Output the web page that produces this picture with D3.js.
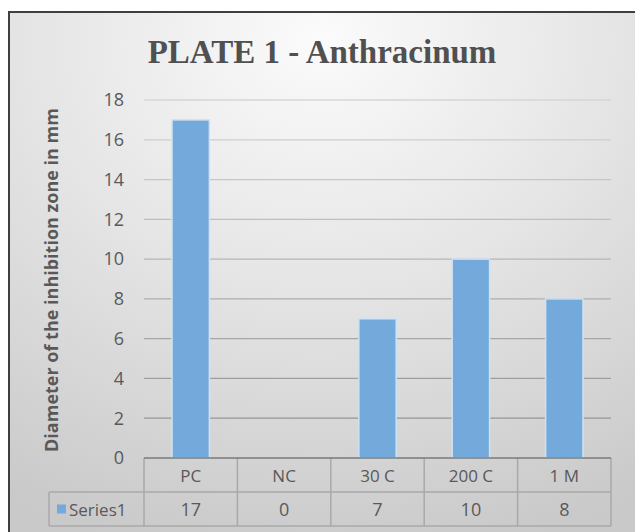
<!DOCTYPE html>
<html>
<head>
<meta charset="utf-8">
<script src="https://cdn.jsdelivr.net/npm/d3@7"></script>
<style>
    body { margin: 0; background: #ffffff; }
    svg { display: block; }
    text { font-family: "Open Sans", "Noto Sans", sans-serif; fill: #595959; }
</style>
</head>
<body>
<div id="chart"></div>
<script>
    // values
    var categories = ["PC", "NC", "30 C", "200 C", "1 M"];
    var values = [17, 0, 7, 10, 8];
    var seriesName = "Series1";
    var yTicks = [0, 2, 4, 6, 8, 10, 12, 14, 16, 18];
    var chartTitle = "PLATE 1 - Anthracinum";
    var yTitle = "Diameter of the inhibition zone in mm";

    var W = 635, H = 532;
    var plot = { left: 144, right: 611, top: 100, bottom: 458 };
    var rowH = 34;

    var svg = d3.select("#chart").append("svg")
        .attr("width", W).attr("height", H);

    // background gradient like the office chart style
    var defs = svg.append("defs");
    var grad = defs.append("radialGradient")
        .attr("id", "bg")
        .attr("gradientUnits", "userSpaceOnUse")
        .attr("cx", 322).attr("cy", 40).attr("r", 620)
        .attr("gradientTransform", "translate(322,40) scale(1,0.85) translate(-322,-40)");
    grad.append("stop").attr("offset", "0%").attr("stop-color", "#fbfbfb");
    grad.append("stop").attr("offset", "45%").attr("stop-color", "#e6e6e6");
    grad.append("stop").attr("offset", "100%").attr("stop-color", "#c9c9c9");

    svg.append("rect")
        .attr("x", 9).attr("y", 12)
        .attr("width", W + 20).attr("height", H + 20)
        .attr("fill", "url(#bg)")
        .attr("stroke", "#3f3f3f")
        .attr("stroke-width", 2);

    // scales
    var x = d3.scaleBand()
        .domain(categories)
        .range([plot.left, plot.right]);
    var y = d3.scaleLinear()
        .domain([0, 18])
        .range([plot.bottom, plot.top]);

    // gridlines, darker toward the bottom
    var gridColor = d3.interpolateRgb("#d6d6d6", "#8e8e8e");
    svg.append("g").selectAll("line")
        .data(yTicks.filter(function (d) { return d > 0; }))
        .enter().append("line")
        .attr("x1", plot.left).attr("x2", plot.right)
        .attr("y1", function (d) { return y(d); })
        .attr("y2", function (d) { return y(d); })
        .attr("stroke", function (d) { return gridColor(1 - d / 18); })
        .attr("stroke-width", 1.3);

    // y tick labels
    svg.append("g").selectAll("text")
        .data(yTicks)
        .enter().append("text")
        .attr("x", 124)
        .attr("y", function (d) { return y(d); })
        .attr("dy", "0.35em")
        .attr("text-anchor", "end")
        .style("font-size", "18px")
        .text(function (d) { return d; });

    // bars
    var barW = x.step() / 2.5;
    svg.append("g").selectAll("rect")
        .data(values)
        .enter().append("rect")
        .attr("x", function (d, i) { return x(categories[i]) + (x.step() - barW) / 2; })
        .attr("y", function (d) { return y(d); })
        .attr("width", barW)
        .attr("height", function (d) { return y(0) - y(d); })
        .attr("fill", "#74aadb")
        .attr("stroke", function (d) { return d > 0 ? "#cfe2f3" : "none"; })
        .attr("stroke-width", 1.5);

    // data table
    var tbl = svg.append("g");
    var lineCol = "#a9a9a9";
    var r1 = plot.bottom, r2 = plot.bottom + rowH, r3 = plot.bottom + 2 * rowH;
    var tableLeft = 49;

    categories.forEach(function (c, i) {
        tbl.append("line")
            .attr("x1", x(c)).attr("x2", x(c))
            .attr("y1", r1).attr("y2", r3)
            .attr("stroke", lineCol).attr("stroke-width", 1.5);
    });
    tbl.append("line")
        .attr("x1", plot.right).attr("x2", plot.right)
        .attr("y1", r1).attr("y2", r3)
        .attr("stroke", lineCol).attr("stroke-width", 1.5);
    tbl.append("line")
        .attr("x1", tableLeft).attr("x2", tableLeft)
        .attr("y1", r2).attr("y2", r3)
        .attr("stroke", lineCol).attr("stroke-width", 1.5);
    [r2, r3].forEach(function (yy) {
        tbl.append("line")
            .attr("x1", tableLeft).attr("x2", plot.right)
            .attr("y1", yy).attr("y2", yy)
            .attr("stroke", lineCol).attr("stroke-width", 1.5);
    });

    tbl.selectAll("text.cat")
        .data(categories)
        .enter().append("text")
        .attr("class", "cat")
        .attr("x", function (d) { return x(d) + x.bandwidth() / 2; })
        .attr("y", (r1 + r2) / 2 + 1)
        .attr("dy", "0.35em")
        .attr("text-anchor", "middle")
        .style("font-size", "17px")
        .text(function (d) { return d; });

    tbl.selectAll("text.val")
        .data(values)
        .enter().append("text")
        .attr("class", "val")
        .attr("x", function (d, i) { return x(categories[i]) + x.bandwidth() / 2; })
        .attr("y", (r2 + r3) / 2 + 1)
        .attr("dy", "0.35em")
        .attr("text-anchor", "middle")
        .style("font-size", "18px")
        .text(function (d) { return d; });

    // legend key + series name
    tbl.append("rect")
        .attr("x", 57).attr("y", (r2 + r3) / 2 - 4.5)
        .attr("width", 9).attr("height", 9)
        .attr("fill", "#74aadb");
    tbl.append("text")
        .attr("x", 69)
        .attr("y", (r2 + r3) / 2 + 1)
        .attr("dy", "0.35em")
        .style("font-size", "17px")
        .text(seriesName);

    // axis baseline
    svg.append("line")
        .attr("x1", plot.left).attr("x2", plot.right)
        .attr("y1", y(0)).attr("y2", y(0))
        .attr("stroke", "#7a7a7a").attr("stroke-width", 1.6);

    // title
    svg.append("text")
        .attr("x", 322).attr("y", 63)
        .attr("text-anchor", "middle")
        .style("font-family", "'Liberation Serif', 'DejaVu Serif', serif")
        .style("font-weight", "bold")
        .style("font-size", "33px")
        .style("fill", "#505050")
        .text(chartTitle);

    // y axis title
    svg.append("text")
        .attr("transform", "translate(58,280) rotate(-90)")
        .attr("text-anchor", "middle")
        .style("font-weight", "bold")
        .style("font-size", "18px")
        .text(yTitle);
</script>
</body>
</html>
